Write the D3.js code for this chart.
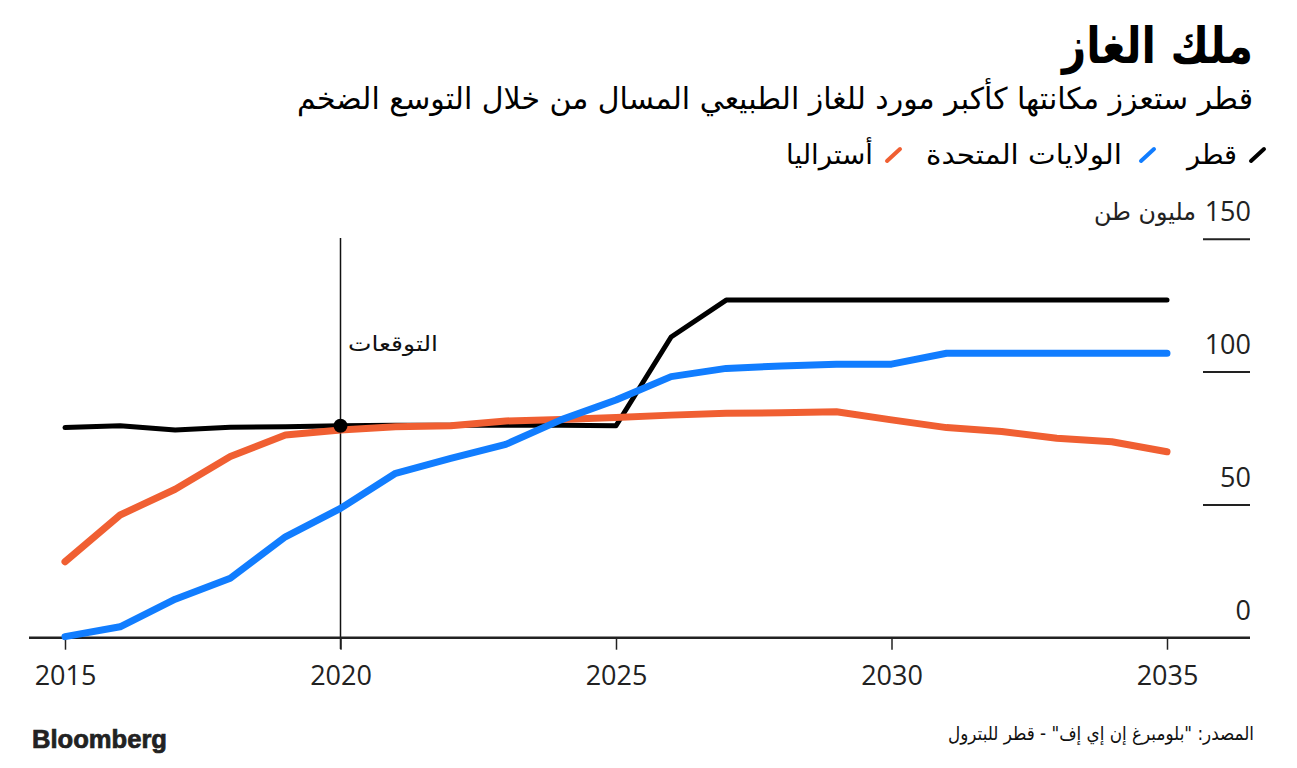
<!DOCTYPE html>
<html><head><meta charset="utf-8">
<script src="https://cdn.jsdelivr.net/npm/d3@7"></script>
<style>
html,body{margin:0;padding:0;background:#fff;}
svg{display:block;}
</style></head>
<body>
<svg id="chart" width="1297" height="768"></svg>
<script>
// ---- data ----
const years = [2015,2016,2017,2018,2019,2020,2021,2022,2023,2024,2025,2026,2027,2028,2029,2030,2031,2032,2033,2034,2035];
const qatar = [79.1,79.8,78.2,79.2,79.4,79.8,80,80,80,80,79.8,113.2,127.1,127.1,127.1,127.1,127.1,127.1,127.1,127.1,127.1];
const usa = [0.4,4.1,14.5,22.4,38,48.7,61.9,67.5,72.8,82,89.5,98.3,101.4,102.3,103.0,103.0,107.1,107.1,107.1,107.1,107.1];
const australia = [28.6,46.2,55.9,68.2,76.3,78.2,79.4,79.8,81.6,82.2,82.9,83.8,84.5,84.7,85.1,82,79.1,77.6,75.1,73.8,70.0];
const xTicks = [2015,2020,2025,2030,2035];
const yTicks = [0,50,100,150];
const seriesNames = ["قطر","الولايات المتحدة","أستراليا"];
const title = "ملك الغاز";
const subtitle = "قطر ستعزز مكانتها كأكبر مورد للغاز الطبيعي المسال من خلال التوسع الضخم";
const unitLabel = "مليون طن";
const forecastLabel = "التوقعات";
const forecastYear = 2020;
const sourceText = "المصدر: \"بلومبرغ إن إي إف\" - قطر للبترول";

// ---- styles ----
const colors = {"قطر":"#000000","الولايات المتحدة":"#117dff","أستراليا":"#f05f32"};
const AR = "'DejaVu Sans', sans-serif";
const NUM = "'Open Sans', sans-serif";

const svg = d3.select("#chart");
const x = d3.scaleLinear().domain([2015,2035]).range([65,1167]);
const y = d3.scaleLinear().domain([0,150]).range([637.7,239.3]);

// titles
svg.append("text").attr("x",1253).attr("y",63).attr("text-anchor","end")
  .attr("font-family",AR).attr("font-weight","bold").attr("font-size",50)
  .attr("textLength",191).attr("lengthAdjust","spacingAndGlyphs").text(title);
svg.append("text").attr("x",1253).attr("y",109).attr("text-anchor","end")
  .attr("font-family",AR).attr("font-size",30)
  .attr("textLength",956).attr("lengthAdjust","spacingAndGlyphs").text(subtitle);

// legend
const legendLayout = [
  {name:"قطر", slashRight:1266, textRight:1237, w:50},
  {name:"الولايات المتحدة", slashRight:1156, textRight:1122, w:196},
  {name:"أستراليا", slashRight:902, textRight:873, w:87}
];
const lg = svg.append("g");
legendLayout.forEach(d=>{
  lg.append("line").attr("x1",d.slashRight-15).attr("y1",161).attr("x2",d.slashRight-2).attr("y2",149)
    .attr("stroke",colors[d.name]).attr("stroke-width",4).attr("stroke-linecap","round");
  lg.append("text").attr("x",d.textRight).attr("y",164).attr("text-anchor","end")
    .attr("font-family",AR).attr("font-size",27)
    .attr("textLength",d.w).attr("lengthAdjust","spacingAndGlyphs").text(d.name);
});

// y gridlines + labels
const yg = svg.append("g");
yTicks.forEach(v=>{
  if(v>0) yg.append("line").attr("x1",1203).attr("x2",1250).attr("y1",y(v)).attr("y2",y(v))
    .attr("stroke","#222").attr("stroke-width",2);
  yg.append("text").attr("x",1251).attr("y",y(v)-18).attr("text-anchor","end")
    .attr("font-family",NUM).attr("font-size",27).attr("fill","#222").text(v);
});
yg.append("text").attr("x",1196).attr("y",y(150)-19).attr("text-anchor","end")
  .attr("font-family",AR).attr("font-size",24).attr("fill","#222")
  .attr("textLength",102).attr("lengthAdjust","spacingAndGlyphs").text(unitLabel);

// forecast line
svg.append("line").attr("x1",x(forecastYear)).attr("x2",x(forecastYear)).attr("y1",238).attr("y2",649)
  .attr("stroke","#111").attr("stroke-width",1.5);
svg.append("text").attr("x",438).attr("y",351).attr("text-anchor","end")
  .attr("font-family",AR).attr("font-size",21).attr("fill","#111")
  .attr("textLength",90).attr("lengthAdjust","spacingAndGlyphs").text(forecastLabel);

// x axis
svg.append("line").attr("x1",29).attr("x2",1250).attr("y1",y(0)).attr("y2",y(0))
  .attr("stroke","#222").attr("stroke-width",2.5);
const xa = svg.append("g").attr("transform",`translate(0,${y(0)})`)
  .call(d3.axisBottom(x).tickValues(xTicks).tickFormat(d3.format("d")).tickSize(12).tickPadding(16));
xa.select(".domain").remove();
xa.selectAll(".tick line").attr("stroke","#222").attr("stroke-width",1.5);
xa.selectAll(".tick text").attr("font-family",NUM).attr("font-size",27).attr("fill","#222");

// lines
const line = d3.line().x((d,i)=>x(years[i])).y(d=>y(d));
const series = [
  {name:"قطر", values:qatar, w:5},
  {name:"أستراليا", values:australia, w:7},
  {name:"الولايات المتحدة", values:usa, w:7}
];
series.forEach(s=>{
  svg.append("path").datum(s.values).attr("d",line).attr("fill","none")
    .attr("stroke",colors[s.name]).attr("stroke-width",s.w)
    .attr("stroke-linejoin","round").attr("stroke-linecap","round");
});
// dot at forecast start
svg.append("circle").attr("cx",x(forecastYear)).attr("cy",y(qatar[years.indexOf(forecastYear)]))
  .attr("r",7).attr("fill","#000");

// footer
svg.append("text").attr("x",32).attr("y",748).attr("font-family","'Liberation Sans', Arial, sans-serif")
  .attr("font-weight","bold").attr("font-size",25).attr("fill","#222")
  .attr("stroke","#222").attr("stroke-width",0.7)
  .attr("textLength",135).attr("lengthAdjust","spacingAndGlyphs").text("Bloomberg");
svg.append("text").attr("x",1254).attr("y",740).attr("text-anchor","end")
  .attr("font-family",AR).attr("font-size",19).attr("fill","#111")
  .attr("textLength",306).attr("lengthAdjust","spacingAndGlyphs").text(sourceText);
</script>
</body></html>
